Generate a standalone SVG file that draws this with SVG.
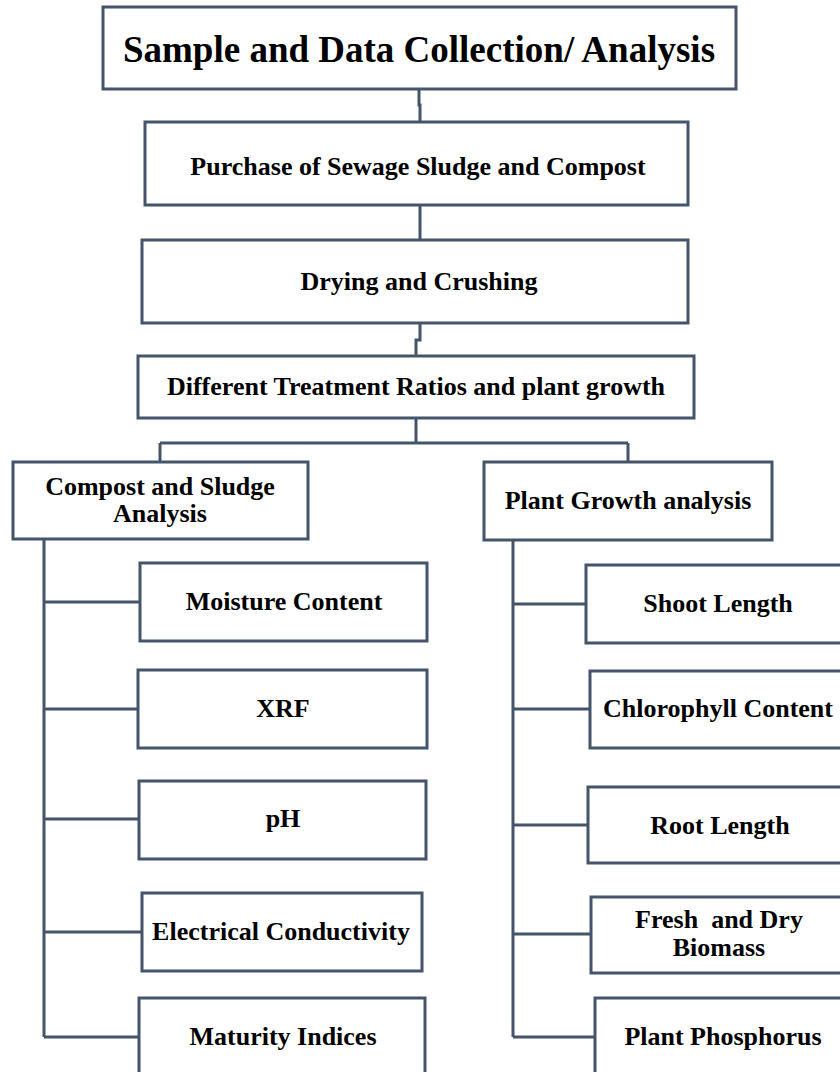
<svg xmlns="http://www.w3.org/2000/svg" width="840" height="1072" viewBox="0 0 840 1072">
<style>
.box{fill:#fff;stroke:#44546A;stroke-width:3}
.ln{fill:none;stroke:#44546A;stroke-width:3}
text{font-family:"Liberation Serif","Times New Roman",serif;font-weight:bold;font-size:26px;fill:#000;text-anchor:middle;white-space:pre}
.title{font-size:37px}
</style>
<rect width="840" height="1072" fill="#fff"/>
<g id="connectors">
<path class="ln" d="M419,89 V105 H420 V122"/>
<path class="ln" d="M420,205 V240"/>
<path class="ln" d="M420,323 V340 H416 V356"/>
<path class="ln" d="M416,418 V443 M160,443 H628 M160,443 V462 M628,443 V462"/>
<path class="ln" d="M44,540 V1037 M44,602 H140 M44,709 H138 M44,819 H139 M44,932 H142 M44,1037 H139"/>
<path class="ln" d="M513,540 V1037 M513,604 H586 M513,709 H590 M513,825 H588 M513,934 H591 M513,1037 H595"/>
</g>
<g id="n-title"><rect class="box" x="103" y="7" width="633" height="82"/><text class="title" x="419" y="62">Sample and Data Collection/ Analysis</text></g>
<g id="n-purchase"><rect class="box" x="145" y="122" width="543" height="83"/><text x="418" y="175">Purchase of Sewage Sludge and Compost</text></g>
<g id="n-drying"><rect class="box" x="142" y="240" width="546" height="83"/><text x="419" y="290">Drying and Crushing</text></g>
<g id="n-treatment"><rect class="box" x="138" y="356" width="556" height="62"/><text x="416" y="395">Different Treatment Ratios and plant growth</text></g>
<g id="n-compost"><rect class="box" x="13" y="462" width="295" height="77"/><text x="160" y="495">Compost and Sludge</text><text x="160" y="522">Analysis</text></g>
<g id="n-plant"><rect class="box" x="484" y="462" width="288" height="78"/><text x="628" y="509">Plant Growth analysis</text></g>
<g id="n-moisture"><rect class="box" x="140" y="563" width="287" height="78"/><text x="284" y="610">Moisture Content</text></g>
<g id="n-xrf"><rect class="box" x="138" y="670" width="289" height="78"/><text x="283" y="717">XRF</text></g>
<g id="n-ph"><rect class="box" x="139" y="781" width="287" height="78"/><text x="283" y="827">pH</text></g>
<g id="n-ec"><rect class="box" x="142" y="893" width="280" height="78"/><text x="281" y="940">Electrical Conductivity</text></g>
<g id="n-maturity"><rect class="box" x="139" y="998" width="286" height="90"/><text x="283" y="1045">Maturity Indices</text></g>
<g id="n-shoot"><rect class="box" x="586" y="565" width="265" height="78"/><text x="718" y="612">Shoot Length</text></g>
<g id="n-chloro"><rect class="box" x="590" y="671" width="265" height="77"/><text x="718" y="717">Chlorophyll Content</text></g>
<g id="n-root"><rect class="box" x="588" y="787" width="265" height="76"/><text x="720" y="834">Root Length</text></g>
<g id="n-biomass"><rect class="box" x="591" y="897" width="265" height="76"/><text x="719" y="928">Fresh  and Dry</text><text x="719" y="956">Biomass</text></g>
<g id="n-phosphorus"><rect class="box" x="595" y="998" width="265" height="90"/><text x="723" y="1045">Plant Phosphorus</text></g>
</svg>
